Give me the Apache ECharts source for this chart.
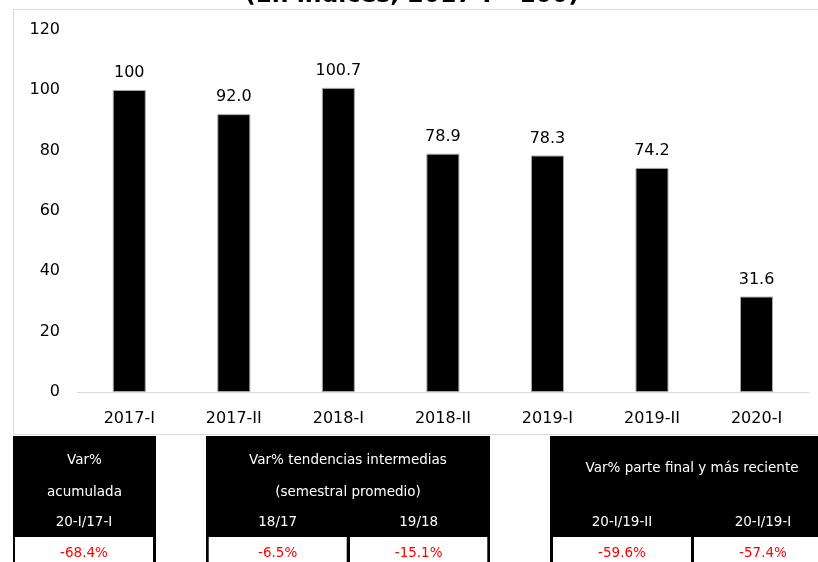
<!DOCTYPE html>
<html>
<head>
<meta charset="utf-8">
<script src="https://cdn.jsdelivr.net/npm/echarts@6/dist/echarts.min.js"></script>
<style>
  html, body { margin: 0; padding: 0; background: #fff; }
  #chart { width: 818px; height: 562px; }
</style>
</head>
<body>
<div id="chart"></div>
<script>
const FONT = '"DejaVu Sans", "Liberation Sans", sans-serif';

// Chart content
const titleText = '(En índices, 2017-I= 100)';
const periods = ['2017-I', '2017-II', '2018-I', '2018-II', '2019-I', '2019-II', '2020-I'];
const indexLabels = ['100', '92.0', '100.7', '78.9', '78.3', '74.2', '31.6'];
const indexValues = indexLabels.map(Number);
const yMin = 0;
const yMax = 120;
const yStep = 20;

// Variation table below the chart
const accHeader = ['Var%', 'acumulada'];
const accPeriods = ['20-I/17-I'];
const accValues = ['-68.4%'];
const midHeader = ['Var% tendencias intermedias', '(semestral promedio)'];
const midPeriods = ['18/17', '19/18'];
const midValues = ['-6.5%', '-15.1%'];
const recentHeader = ['Var% parte final y más reciente'];
const recentPeriods = ['20-I/19-II', '20-I/19-I'];
const recentValues = ['-59.6%', '-57.4%'];

const chart = echarts.init(document.getElementById('chart'), null, { renderer: 'canvas' });

function rect(x, y, w, h, style, z) {
  return { type: 'rect', silent: true, z: z || 0, shape: { x: x, y: y, width: w, height: h }, style: style };
}
function text(str, x, y, fill, size, weight) {
  return {
    type: 'text', silent: true, z: 5, x: x, y: y,
    style: {
      text: str, fill: fill,
      font: (weight || 'normal') + ' ' + (size || 13.5) + 'px ' + FONT,
      align: 'center', verticalAlign: 'middle'
    }
  };
}

// One black header block with white value cells underneath
function block(x0, x1, cells, headerLines, headerYs, periodLabels, values) {
  const out = [];
  out.push(rect(x0, 436, x1 - x0, 140, { fill: '#000' }, 1));
  headerLines.forEach((t, i) => out.push(text(t, (x0 + x1) / 2, headerYs[i], '#fff')));
  cells.forEach((c, i) => {
    out.push(rect(c[0], 537, c[1] - c[0], 40, { fill: '#fff' }, 2));
    out.push(text(periodLabels[i], (c[0] + c[1]) / 2, 522, '#fff'));
    out.push(text(values[i], (c[0] + c[1]) / 2, 553, '#ff0000'));
  });
  return out;
}

const graphics = [].concat(
  [rect(13.5, 9.5, 900, 425, { fill: 'none', stroke: '#d9d9d9', lineWidth: 1 }, -1)],
  [{
    type: 'text', silent: true, z: 5, x: 412, y: 8,
    style: { text: titleText, fill: '#000', font: 'bold 23.5px ' + FONT, align: 'center', verticalAlign: 'bottom' }
  }],
  block(13, 156, [[15, 153]], accHeader, [460, 492], accPeriods, accValues),
  block(206, 490, [[208.7, 346.7], [350, 487.3]], midHeader, [460, 492], midPeriods, midValues),
  block(550, 834, [[553, 691], [694, 832]], recentHeader, [468], recentPeriods, recentValues)
);

const option = {
  animation: false,
  backgroundColor: '#fff',
  textStyle: { fontFamily: FONT },
  grid: { left: 77, right: 9.2, top: 29.6, bottom: 170, containLabel: false },
  xAxis: {
    type: 'category',
    data: periods,
    axisLine: { show: true, lineStyle: { color: '#d9d9d9', width: 1 } },
    axisTick: { show: false },
    axisLabel: { color: '#000', fontSize: 16, fontFamily: FONT, margin: 19 }
  },
  yAxis: {
    type: 'value',
    min: yMin, max: yMax, interval: yStep,
    axisLine: { show: false },
    axisTick: { show: false },
    splitLine: { show: false },
    axisLabel: { color: '#000', fontSize: 16, fontFamily: FONT, margin: 17 }
  },
  series: [{
    type: 'bar',
    data: indexValues,
    barWidth: 33,
    itemStyle: { color: '#000', borderColor: '#a6a6a6', borderWidth: 1 },
    label: {
      show: true, position: 'top', distance: 9,
      color: '#000', fontSize: 16, fontFamily: FONT,
      formatter: p => indexLabels[p.dataIndex]
    }
  }],
  graphic: graphics
};

chart.setOption(option);
</script>
</body>
</html>
